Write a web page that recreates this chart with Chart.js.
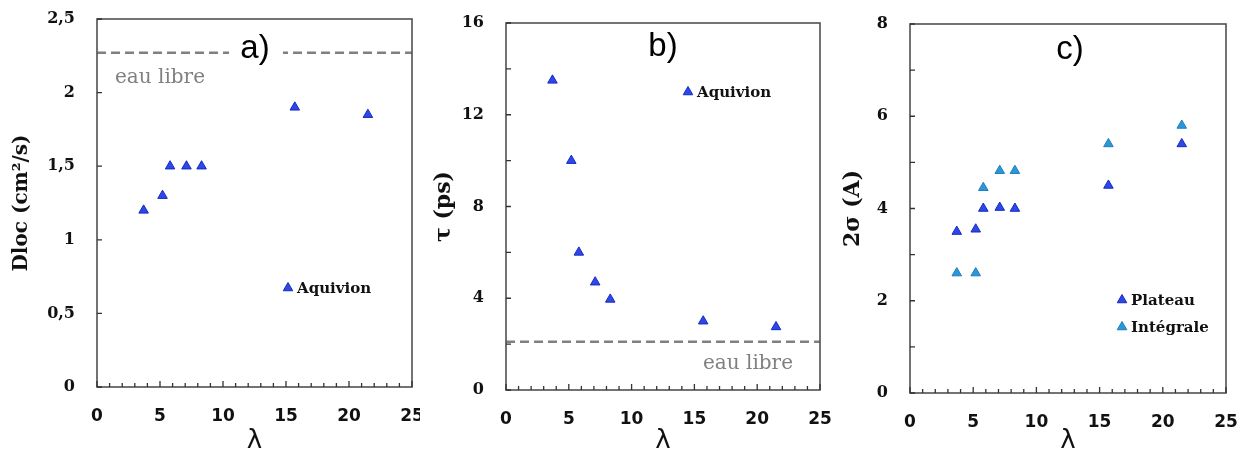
<!DOCTYPE html>
<html>
<head>
<meta charset="utf-8">
<script src="https://cdn.jsdelivr.net/npm/chart.js@4/dist/chart.umd.min.js"></script>
<style>
  html, body { margin: 0; padding: 0; background: #fff; }
  #wrap { position: relative; width: 1249px; height: 459px; }
  canvas { position: absolute; top: 0; }
</style>
</head>
<body>
<div id="wrap">
  <canvas id="chartA" width="420" height="459" style="left:0"></canvas>
  <canvas id="chartB" width="420" height="459" style="left:420px"></canvas>
  <canvas id="chartC" width="409" height="459" style="left:840px"></canvas>
</div>
<script>
// values
const lambda = [3.7, 5.2, 5.8, 7.1, 8.3, 15.7, 21.5];
const dloc = [1.2, 1.3, 1.5, 1.5, 1.5, 1.9, 1.85];
const tau = [13.5, 10, 6, 4.7, 3.95, 3, 2.75];
const plateau = [3.5, 3.55, 4, 4.02, 4, 4.5, 5.4];
const integrale = [2.6, 2.6, 4.45, 4.82, 4.82, 5.4, 5.8];
const eauLibreDloc = 2.27;
const eauLibreTau = 2.1;
const xRange = [0, 25];

const BLUE = 'rgb(44, 72, 235)';
const BLUE_EDGE = 'rgb(25, 40, 190)';
const LIGHT = 'rgb(42, 152, 215)';
const LIGHT_EDGE = 'rgb(30, 125, 190)';
const GREY = '#808080';
const FRAME = '#505050';

function pts(xs, ys) {
  return xs.map((x, i) => ({ x: x, y: ys[i] }));
}

function triangle(ctx, x, y, r, fill, edge) {
  ctx.save();
  ctx.fillStyle = fill;
  ctx.strokeStyle = edge;
  ctx.lineWidth = 1;
  ctx.beginPath();
  ctx.moveTo(x, y - r);
  ctx.lineTo(x + r * 0.866, y + r * 0.5);
  ctx.lineTo(x - r * 0.866, y + r * 0.5);
  ctx.closePath();
  ctx.fill();
  ctx.stroke();
  ctx.restore();
}

function noOverflow(s) {
  s.paddingLeft = 0;
  s.paddingRight = 0;
  s.paddingTop = 0;
  s.paddingBottom = 0;
}

// frame, inward ticks, panel letter, notes and legend
const decor = {
  id: 'decor',
  afterDraw(chart, args, o) {
    const ctx = chart.ctx;
    const a = chart.chartArea;
    const xs = chart.scales.x, ys = chart.scales.y;
    ctx.save();
    // letter with white box (cuts the dashed line in panel a)
    if (o.letterBox) {
      ctx.fillStyle = '#fff';
      ctx.fillRect(o.letterBox[0], o.letterBox[1], o.letterBox[2], o.letterBox[3]);
    }
    ctx.fillStyle = '#000';
    ctx.font = '33px "Liberation Sans", Arial, sans-serif';
    ctx.textAlign = 'center';
    ctx.textBaseline = 'middle';
    ctx.fillText(o.letter, o.letterPos[0], o.letterPos[1]);

    if (o.note) {
      ctx.fillStyle = GREY;
      ctx.font = '20px "DejaVu Serif", serif';
      ctx.textAlign = 'left';
      ctx.fillText('eau libre', o.note[0], o.note[1]);
    }

    ctx.font = 'bold 15px "DejaVu Serif", serif';
    ctx.textAlign = 'left';
    o.legend.forEach(item => {
      triangle(ctx, item.x, item.y, 5.5, item.fill, item.edge);
      ctx.fillStyle = '#111';
      ctx.fillText(item.text, item.x + 9, item.y + 1);
    });

    // frame
    ctx.strokeStyle = FRAME;
    ctx.lineWidth = 1.6;
    ctx.strokeRect(a.left, a.top, a.right - a.left, a.bottom - a.top);

    // inward ticks
    ctx.lineWidth = 1.3;
    ctx.strokeStyle = '#333';
    ctx.beginPath();
    for (let v = xRange[0]; v <= xRange[1]; v += 1) {
      const px = xs.getPixelForValue(v);
      const len = v % 5 === 0 ? 6 : 4;
      ctx.moveTo(px, a.bottom);
      ctx.lineTo(px, a.bottom - len);
    }
    for (let v = ys.min; v <= ys.max + 1e-9; v += o.yTickStep) {
      const py = ys.getPixelForValue(v);
      ctx.moveTo(a.left, py);
      ctx.lineTo(a.left + 5, py);
    }
    ctx.stroke();
    ctx.restore();
  }
};

function makeOptions(p) {
  return {
    responsive: false,
    animation: false,
    layout: { autoPadding: false, padding: { top: p.top, right: p.right, bottom: 0, left: 0 } },
    plugins: {
      legend: { display: false },
      tooltip: { enabled: false },
      decor: p.decor
    },
    scales: {
      x: {
        type: 'linear',
        min: xRange[0],
        max: xRange[1],
        grid: { display: false },
        border: { display: false },
        ticks: {
          stepSize: 5,
          padding: 11,
          color: '#111',
          font: { family: '"DejaVu Sans", sans-serif', size: 17, weight: 'bold' }
        },
        title: {
          display: true,
          text: 'λ',
          color: '#111',
          padding: { top: 0, bottom: 2 },
          font: { family: '"DejaVu Sans", sans-serif', size: 26 }
        },
        afterFit: s => { s.height = p.xHeight; noOverflow(s); }
      },
      y: {
        type: 'linear',
        min: 0,
        max: p.yMax,
        grid: { display: false },
        border: { display: false },
        ticks: {
          stepSize: p.yStep,
          padding: 14,
          color: '#111',
          font: { family: '"DejaVu Serif", serif', size: 16, weight: 'bold' },
          callback: v => String(v).replace('.', ',')
        },
        title: {
          display: true,
          text: p.yTitle,
          color: '#111',
          padding: { top: p.titlePad, bottom: 0 },
          font: { family: '"DejaVu Serif", serif', size: p.titleSize, weight: 'bold' }
        },
        afterFit: s => { s.width = p.yWidth; noOverflow(s); }
      }
    }
  };
}

function refLine(value) {
  return {
    type: 'line',
    data: [{ x: xRange[0], y: value }, { x: xRange[1], y: value }],
    borderColor: GREY,
    borderWidth: 2.5,
    borderDash: [9, 5],
    pointRadius: 0,
    fill: false
  };
}

function markers(label, xs, ys, fill, edge) {
  return {
    label: label,
    data: pts(xs, ys),
    pointStyle: 'triangle',
    pointRadius: 5.5,
    backgroundColor: fill,
    borderColor: edge,
    borderWidth: 1
  };
}

new Chart(document.getElementById('chartA'), {
  type: 'scatter',
  data: {
    datasets: [
      refLine(eauLibreDloc),
      markers('Aquivion', lambda, dloc, BLUE, BLUE_EDGE)
    ]
  },
  options: makeOptions({
    top: 19, right: 8, xHeight: 72, yWidth: 97, yMax: 2.5, yStep: 0.5,
    yTitle: 'Dloc (cm²/s)', titleSize: 20, titlePad: 10,
    decor: {
      letter: 'a)', letterPos: [255, 49], letterBox: [229, 33, 54, 34],
      note: [115, 78], yTickStep: 0.5,
      legend: [{ x: 288, y: 288, text: 'Aquivion', fill: BLUE, edge: BLUE_EDGE }]
    }
  }),
  plugins: [decor]
});

new Chart(document.getElementById('chartB'), {
  type: 'scatter',
  data: {
    datasets: [
      refLine(eauLibreTau),
      markers('Aquivion', lambda, tau, BLUE, BLUE_EDGE)
    ]
  },
  options: makeOptions({
    top: 23, right: 20, xHeight: 69, yWidth: 86, yMax: 16, yStep: 4,
    yTitle: 'τ (ps)', titleSize: 22, titlePad: 11,
    decor: {
      letter: 'b)', letterPos: [243, 47], letterBox: null,
      note: [283, 364], yTickStep: 2,
      legend: [{ x: 268, y: 92, text: 'Aquivion', fill: BLUE, edge: BLUE_EDGE }]
    }
  }),
  plugins: [decor]
});

new Chart(document.getElementById('chartC'), {
  type: 'scatter',
  data: {
    datasets: [
      markers('Plateau', lambda, plateau, BLUE, BLUE_EDGE),
      markers('Intégrale', lambda, integrale, LIGHT, LIGHT_EDGE)
    ]
  },
  options: makeOptions({
    top: 24, right: 23, xHeight: 66, yWidth: 70, yMax: 8, yStep: 2,
    yTitle: '2σ (A)', titleSize: 22, titlePad: 0,
    decor: {
      letter: 'c)', letterPos: [230, 50], letterBox: null,
      note: null, yTickStep: 1,
      legend: [
        { x: 282, y: 300, text: 'Plateau', fill: BLUE, edge: BLUE_EDGE },
        { x: 282, y: 327, text: 'Intégrale', fill: LIGHT, edge: LIGHT_EDGE }
      ]
    }
  }),
  plugins: [decor]
});
</script>
</body>
</html>
